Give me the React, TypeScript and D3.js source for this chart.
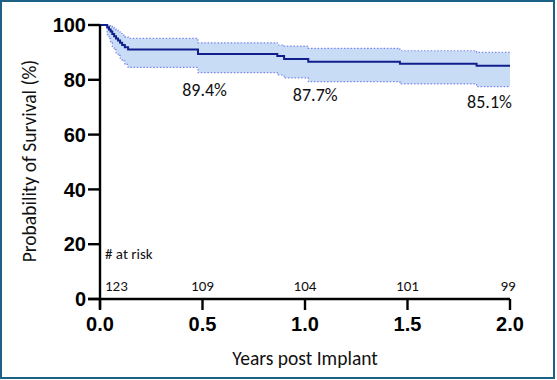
import React from "react";
import * as d3 from "d3";

const times = [0, 0.035, 0.044, 0.052, 0.06, 0.069, 0.078, 0.088, 0.098, 0.108, 0.121, 0.137, 0.478, 0.865, 0.898, 1.016, 1.463, 1.837, 2.0];
const survival = [100, 99.2, 98.4, 97.6, 96.7, 95.9, 95.1, 94.3, 93.5, 92.7, 91.9, 91.1, 89.4, 88.7, 87.6, 86.6, 85.9, 85.1, 85.1];
const upperCI = [100, 100, 99.8, 99.5, 99.1, 98.6, 98.1, 97.5, 96.9, 96.3, 95.7, 95.1, 93.5, 92.7, 92.3, 91.5, 90.6, 90.0, 90.0];
const lowerCI = [100, 96.5, 95.0, 93.5, 92.2, 91.0, 89.9, 88.9, 87.9, 86.9, 85.6, 84.5, 82.6, 81.8, 80.7, 79.3, 78.5, 77.5, 77.5];

const xTicks = [0, 0.5, 1.0, 1.5, 2.0];
const yTicks = [0, 20, 40, 60, 80, 100];
const atRisk = [123, 109, 104, 101, 99];
const annotations = [
  { t: 0.51, s: 89.4, label: "89.4%" },
  { t: 1.05, s: 87.7, label: "87.7%" },
  { t: 1.9, s: 85.1, label: "85.1%" },
];

const W = 557;
const H = 380;
const sans = "Calibri, Carlito, Lato, 'Open Sans', sans-serif";
const bold = "Arial, 'Liberation Sans', sans-serif";

export default function App() {
  const x = d3.scaleLinear().domain([0, 2]).range([100, 510]);
  const y = d3.scaleLinear().domain([0, 100]).range([299, 25]);
  const idx = times.map((_, i) => i);

  const line = d3
    .line<number>()
    .x((i) => x(times[i]))
    .y((i) => y(survival[i]))
    .curve(d3.curveStepAfter);
  const upLine = d3
    .line<number>()
    .x((i) => x(times[i]))
    .y((i) => y(upperCI[i]))
    .curve(d3.curveStepAfter);
  const loLine = d3
    .line<number>()
    .x((i) => x(times[i]))
    .y((i) => y(lowerCI[i]))
    .curve(d3.curveStepAfter);
  const band = d3
    .area<number>()
    .x((i) => x(times[i]))
    .y0((i) => y(lowerCI[i]))
    .y1((i) => y(upperCI[i]))
    .curve(d3.curveStepAfter);

  return (
    <svg
      width={W}
      height={H}
      style={{ position: "absolute", left: 0, top: 0 }}
      xmlns="http://www.w3.org/2000/svg"
    >
      <rect x={0} y={0} width={W} height={H} fill="#ffffff" />
      <rect x={1} y={1} width={553} height={377} fill="none" stroke="#1d6186" strokeWidth={2} />

      <path d={band(idx) || ""} fill="#c8dcf6" stroke="none" />
      <path d={upLine(idx) || ""} fill="none" stroke="#7d86ee" strokeWidth={1.2} strokeDasharray="1.5,1.8" />
      <path d={loLine(idx) || ""} fill="none" stroke="#7d86ee" strokeWidth={1.2} strokeDasharray="1.5,1.8" />
      <path d={line(idx) || ""} fill="none" stroke="#101f8c" strokeWidth={2} />

      {/* axes */}
      <line x1={x(0)} x2={x(0)} y1={y(100)} y2={y(0) + 10} stroke="#000" strokeWidth={2.4} />
      <line x1={x(0) - 12} x2={x(2)} y1={y(0)} y2={y(0)} stroke="#000" strokeWidth={2.4} />
      {yTicks.map((v) => (
        <g key={"y" + v}>
          <line x1={x(0) - 12} x2={x(0)} y1={y(v)} y2={y(v)} stroke="#000" strokeWidth={2.4} />
          <text x={x(0) - 14} y={y(v)} dy="0.36em" textAnchor="end" fontFamily={bold} fontWeight="bold" fontSize={20}>
            {v}
          </text>
        </g>
      ))}
      {xTicks.map((v) => (
        <g key={"x" + v}>
          <line x1={x(v)} x2={x(v)} y1={y(0)} y2={y(0) + 11} stroke="#000" strokeWidth={2.4} />
          <text x={x(v)} y={331} textAnchor="middle" fontFamily={bold} fontWeight="bold" fontSize={20}>
            {v.toFixed(1)}
          </text>
        </g>
      ))}

      {/* titles */}
      <text x={305} y={365} textAnchor="middle" fontFamily={sans} fontSize={19.5} fill="#111">
        Years post Implant
      </text>
      <text
        transform={`translate(36,${161}) rotate(-90)`}
        textAnchor="middle"
        fontFamily={sans}
        fontSize={19.5}
        fill="#111"
      >
        Probability of Survival (%)
      </text>

      {/* at risk */}
      <text x={105} y={259} fontFamily={sans} fontSize={15} fill="#111">
        # at risk
      </text>
      {atRisk.map((n, i) => (
        <text
          key={"r" + i}
          x={i === 0 ? 105 : i === atRisk.length - 1 ? x(xTicks[i]) - 2 : x(xTicks[i])}
          y={291}
          textAnchor={i === 0 ? "start" : "middle"}
          fontFamily={sans}
          fontSize={15}
          fill="#111"
        >
          {n}
        </text>
      ))}

      {annotations.map((a) => (
        <text
          key={a.label}
          x={x(a.t)}
          y={y(a.s) + 42}
          textAnchor="middle"
          fontFamily={sans}
          fontSize={18}
          fill="#111"
        >
          {a.label}
        </text>
      ))}
    </svg>
  );
}
